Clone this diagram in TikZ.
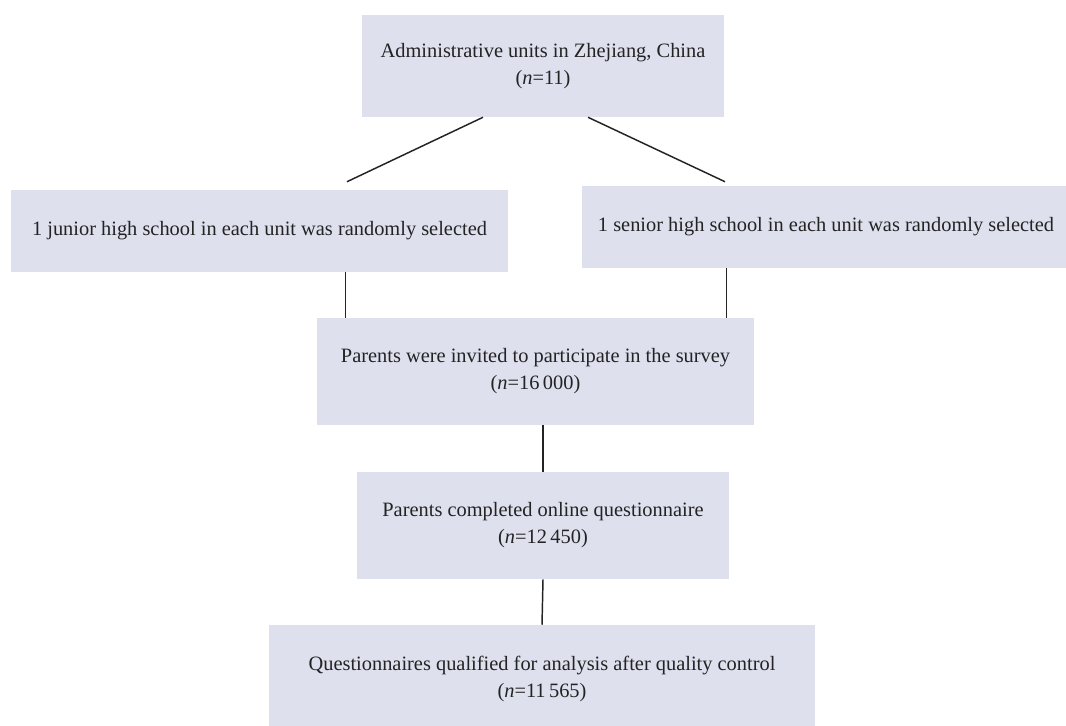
\documentclass[tikz,border=0pt]{standalone}
\usepackage{fontspec}
\setmainfont{Liberation Serif}
\usetikzlibrary{positioning}

\definecolor{boxfill}{RGB}{222,224,238}
\definecolor{inkgray}{RGB}{35,35,35}

\tikzset{
	stepbox/.style = {fill = boxfill, inner sep = 0pt, align = center, text = inkgray, font = \fontsize{15.3}{20.25}\selectfont},
	link/.style = {draw = inkgray, line width = 1.1pt}
}

\begin{document}
\begin{tikzpicture}[x = 0.75pt, y = -0.75pt]
			\useasboundingbox (0,0) rectangle (1066,725);
			\node[stepbox, minimum width = 271.5pt, minimum height = 76.5pt] (units) at (543,66) {Administrative units in Zhejiang, China\\(\textit{n}=11)};
			\node[stepbox, minimum width = 372.75pt, minimum height = 61.5pt] (junior) at (259.5,231) {1 junior high school in each unit was randomly selected};
			\node[stepbox, minimum width = 366pt, minimum height = 61.5pt] (senior) at (826,227) {1 senior high school in each unit was randomly selected};
			\node[stepbox, minimum width = 327.75pt, minimum height = 80.25pt] (invited) at (535.5,371.5) {Parents were invited to participate in the survey\\(\textit{n}=16\,000)};
			\node[stepbox, minimum width = 279pt, minimum height = 80.25pt] (completed) at (543,525.5) {Parents completed online questionnaire\\(\textit{n}=12\,450)};
			\node[stepbox, minimum width = 409.5pt, minimum height = 80.25pt] (qualified) at (542,678.5) {Questionnaires qualified for analysis after quality control\\(\textit{n}=11\,565)};
			\draw[link] ([xshift = -45pt]units.south) -- ([xshift = 65.6pt, yshift = 6pt]junior.north);
			\draw[link] ([xshift = 33.75pt]units.south) -- ([xshift = -75.75pt, yshift = 3pt]senior.north);
			\draw[link] ([xshift = 21.75pt]invited.north west) -- ([xshift = 21.75pt]invited.north west |- junior.south);
			\draw[link] ([xshift = -21pt]invited.north east) -- ([xshift = -21pt]invited.north east |- senior.south);
			\draw[link] (completed.north |- invited.south) -- (completed.north);
			\draw[link] (completed.south) -- (qualified.north);
		\end{tikzpicture}
\end{document}
